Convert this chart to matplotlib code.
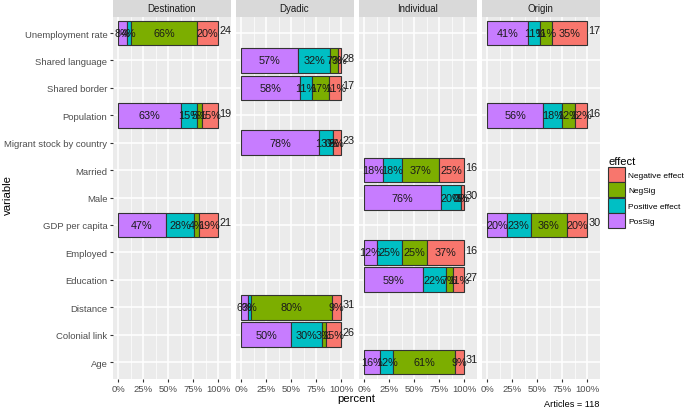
import matplotlib
matplotlib.use("Agg")
import matplotlib.pyplot as plt
from matplotlib.patches import Patch

plt.rcParams['font.family'] = ['Liberation Sans', 'DejaVu Sans']

# categories, top to bottom
variables = [
    "Unemployment rate", "Shared language", "Shared border", "Population",
    "Migrant stock by country", "Married", "Male", "GDP per capita",
    "Employed", "Education", "Distance", "Colonial link", "Age",
]
panels = ["Destination", "Dyadic", "Individual", "Origin"]

# stacking order left to right
effects = ["PosSig", "Positive effect", "NegSig", "Negative effect"]
effect_colors = ["#C77CFF", "#00BFC4", "#7CAE00", "#F8766D"]

# article counts per effect: [PosSig, Positive effect, NegSig, Negative effect]
destination_counts = {
    "Unemployment rate": [2, 1, 16, 5],
    "Population": [12, 3, 1, 3],
    "GDP per capita": [10, 6, 1, 4],
}
dyadic_counts = {
    "Shared language": [16, 9, 2, 1],
    "Shared border": [10, 2, 3, 2],
    "Migrant stock by country": [18, 3, 0, 2],
    "Distance": [2, 1, 25, 3],
    "Colonial link": [13, 8, 1, 4],
}
individual_counts = {
    "Married": [3, 3, 6, 4],
    "Male": [23, 6, 0, 1],
    "Employed": [2, 4, 4, 6],
    "Education": [16, 6, 2, 3],
    "Age": [5, 4, 19, 3],
}
origin_counts = {
    "Unemployment rate": [7, 2, 2, 6],
    "Population": [9, 3, 2, 2],
    "GDP per capita": [6, 7, 11, 6],
}
panel_counts = [destination_counts, dyadic_counts, individual_counts, origin_counts]

total_articles = 118

W, H = 685, 410
fig = plt.figure(figsize=(W / 100, H / 100), dpi=100)

panel_left = 112.5
panel_w = 118
panel_gap = 5
panel_top = 17.6
panel_bottom = 379.5
strip_h = 16.6

axes = []
for p, name in enumerate(panels):
    x0 = panel_left + p * (panel_w + panel_gap)
    ax = fig.add_axes([x0 / W, 1 - panel_bottom / H, panel_w / W,
                       (panel_bottom - panel_top) / H])
    ax.set_facecolor("#EBEBEB")
    for s in ax.spines.values():
        s.set_visible(False)
    ax.set_xlim(-5.7, 112.3)
    ax.set_ylim(len(variables) - 0.4, -0.6)
    ax.set_xticks([0, 25, 50, 75, 100], ["0%", "25%", "50%", "75%", "100%"])
    ax.set_xticks([12.5, 37.5, 62.5, 87.5], minor=True)
    ax.set_yticks(range(len(variables)))
    ax.grid(True, which="major", color="white", linewidth=1.1)
    ax.grid(True, which="minor", axis="x", color="white", linewidth=0.5)
    ax.set_axisbelow(True)
    ax.tick_params(axis="x", which="major", colors="#333333", length=2.2,
                   width=0.8, labelsize=6.8, labelcolor="#4D4D4D", pad=1.5)
    ax.tick_params(axis="x", which="minor", length=0)
    if p == 0:
        ax.set_yticklabels(variables)
        ax.tick_params(axis="y", colors="#333333", length=2.2, width=0.8,
                       labelsize=6.8, labelcolor="#4D4D4D", pad=1.5)
    else:
        ax.tick_params(axis="y", length=0, labelleft=False)

    counts = panel_counts[p]
    for var, vals in counts.items():
        y = variables.index(var)
        n = sum(vals)
        left = 0.0
        for k, c in enumerate(vals):
            pct = c * 100 / n
            ax.barh(y, pct, left=left, height=0.9, color=effect_colors[k],
                    edgecolor="#333333", linewidth=0.8)
            ax.text(left + pct / 2, y, f"{int(pct)}%", ha="center",
                    va="center", fontsize=7.8, color="#1A1A1A")
            left += pct
        ax.text(101, y - 0.1, str(n), ha="left", va="center", fontsize=7.8,
                color="#1A1A1A")

    sax = fig.add_axes([x0 / W, 1 - panel_top / H, panel_w / W, strip_h / H])
    sax.set_facecolor("#D9D9D9")
    sax.set_xticks([])
    sax.set_yticks([])
    for s in sax.spines.values():
        s.set_visible(False)
    sax.text(0.5, 0.5, name, ha="center", va="center", fontsize=7,
             color="#1A1A1A", transform=sax.transAxes)
    axes.append(ax)

mid_x = (panel_left + 4 * panel_w + 3 * panel_gap + panel_left) / 2
fig.text(mid_x / W, 1 - 399 / H, "percent", ha="center", va="center",
         fontsize=8.2)
fig.text(8 / W, 1 - 195 / H, "variable", ha="center", va="center",
         rotation=90, fontsize=8.2)
fig.text(599 / W, 1 - 405 / H, f"Articles = {total_articles}", ha="right",
         va="center", fontsize=6.6)

handles = [Patch(facecolor=effect_colors[k], edgecolor="#333333",
                 linewidth=0.8) for k in range(3, -1, -1)]
labels = [effects[k] for k in range(3, -1, -1)]
leg = fig.legend(handles, labels, loc="upper left",
                 bbox_to_anchor=(605 / W, 1 - 154 / H), frameon=False,
                 fontsize=6.0, title="effect", title_fontsize=8.0,
                 handlelength=2.0, handleheight=2.4, labelspacing=0.05,
                 handletextpad=0.35, borderaxespad=0)
leg._legend_box.align = "left"

fig.savefig("out.png", dpi=100)
